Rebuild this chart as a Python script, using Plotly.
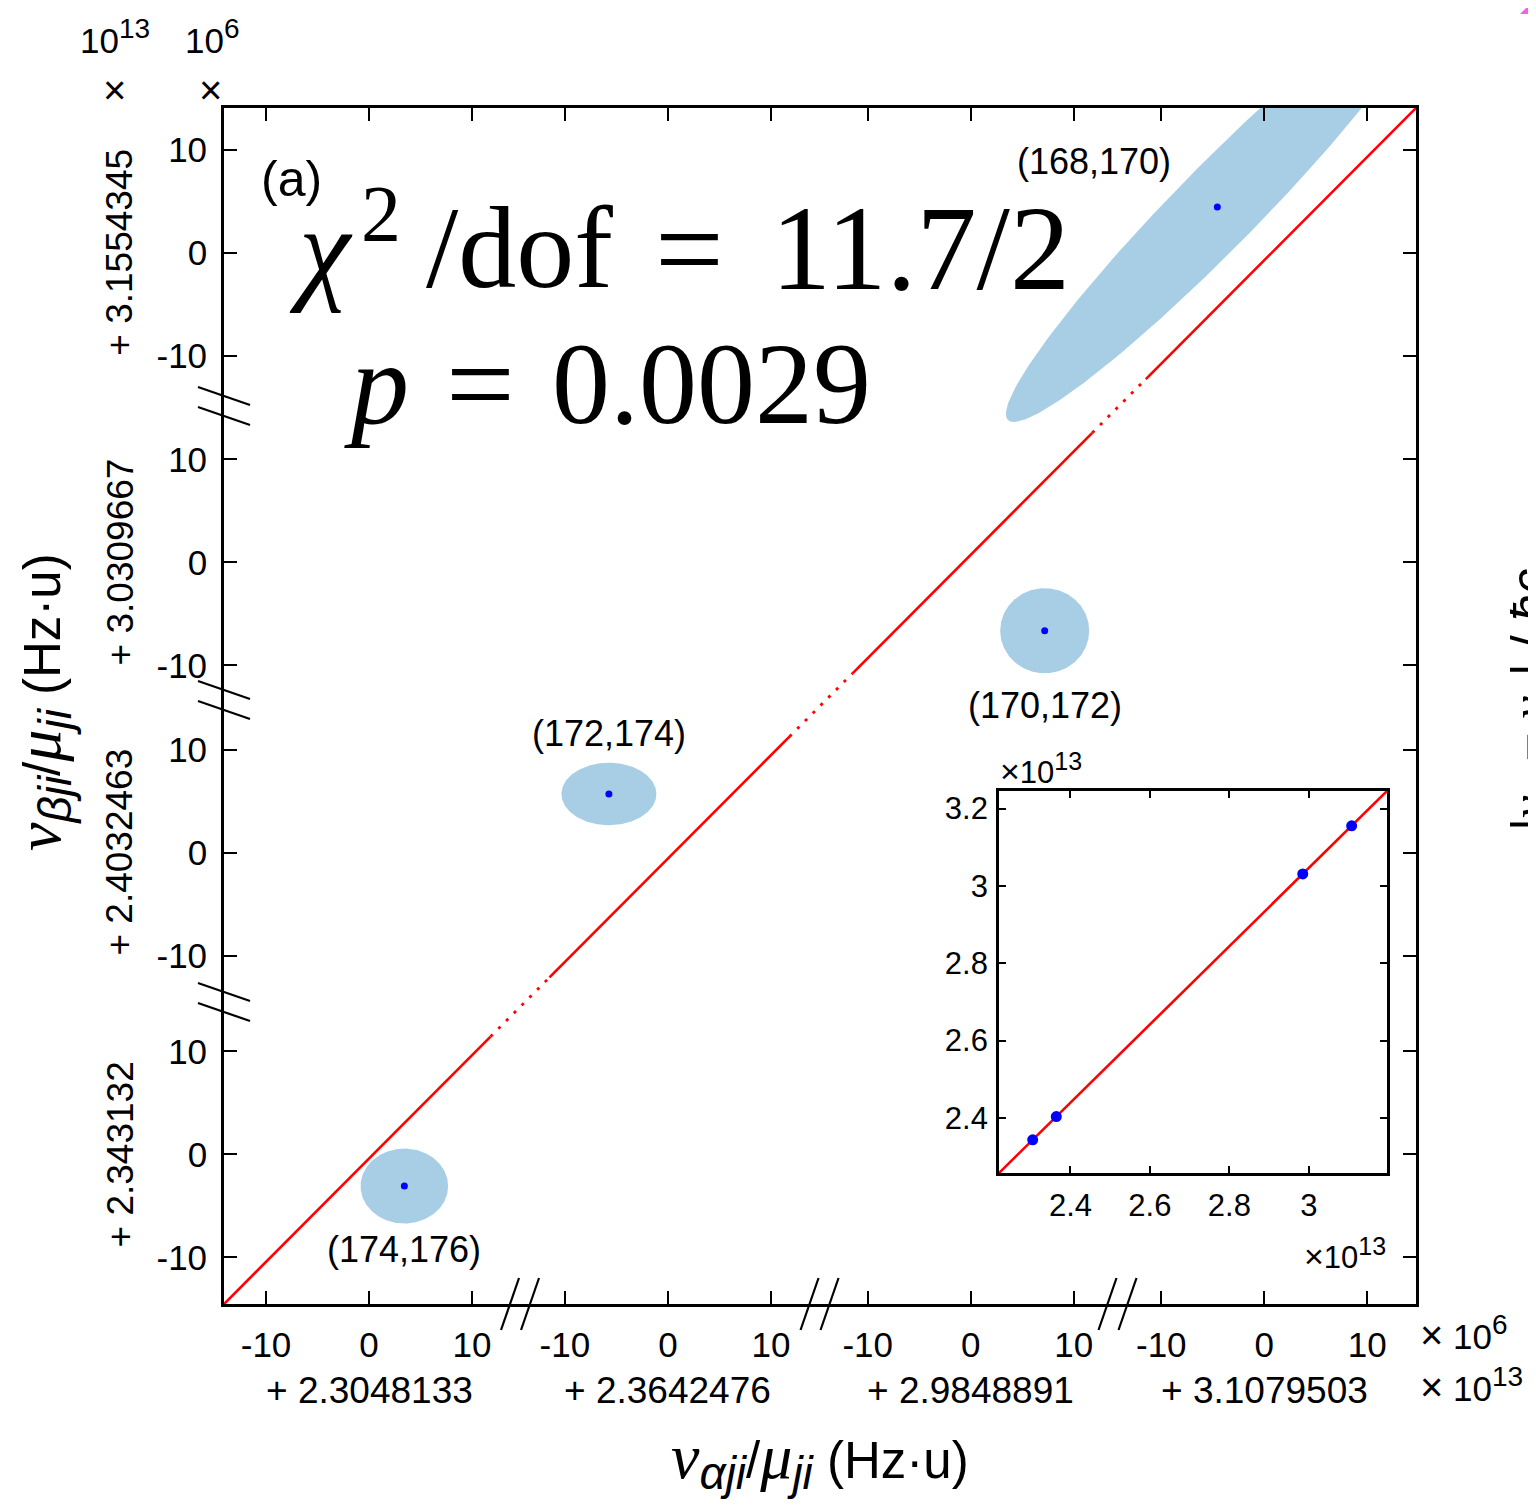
import numpy as np
import plotly.graph_objects as go

# ---------------- data ----------------
# axis offsets (x 10^13 Hz·u); y listed bottom -> top
x_offsets = ["2.3048133", "2.3642476", "2.9848891", "3.1079503"]
y_offsets = ["2.343132", "2.4032463", "3.0309667", "3.1554345"]
pair_labels = ["(174,176)", "(172,174)", "(170,172)", "(168,170)"]
# measured points relative to offsets (x 10^6 Hz·u); point i uses x-offset i and y-offset i
pt_x_local = [3.43, -5.73, 7.18, -4.56]
pt_y_local = [-3.07, 5.69, -6.63, 4.44]
# uncertainty ellipses (x 10^6 Hz·u): semi-axes and tilt (deg)
ell_a = [4.25, 4.61, 4.32, 29.0]
ell_b = [3.64, 3.03, 4.13, 4.0]
ell_angle = [0.0, 0.0, 0.0, 45.5]
local_ticks = [-10, 0, 10]
inset_ticks_x = [2.4, 2.6, 2.8, 3.0]
inset_ticks_y = [2.4, 2.6, 2.8, 3.0, 3.2]
inset_tick_text_x = ["2.4", "2.6", "2.8", "3"]
inset_tick_text_y = ["2.4", "2.6", "2.8", "3", "3.2"]
chi2_value = "11.7/2"
p_value = "0.0029"

# ---------------- broken-axis layout (units of 10^6) ----------------
x_seg_zero = [14.08, 43.1, 72.5, 101.0]
x_breaks = [28.74, 57.82, 86.75]
x_total = 115.73
y_seg_zero = [14.52, 43.83, 72.0, 102.07]
y_breaks = [29.32, 58.64, 87.18]
y_total = 116.12
solid_lo, solid_hi = -11.5, 11.8

W, H = 1536, 1505
OFF = 8  # page body margin
L, R, T, B = 224, 1416, 108, 1304
PW, PH = R - L, B - T


def px(xp):
    return (xp - L) / PW


def py(yp):
    return (B - yp) / PH


SANS = "Liberation Sans, Arial, Helvetica, sans-serif"
SERIF = "Liberation Serif, Times New Roman, serif"
BLUE_FILL = "#a8cee6"

fig = go.Figure()

# ellipses
for i in range(4):
    cx = x_seg_zero[i] + pt_x_local[i]
    cy = y_seg_zero[i] + pt_y_local[i]
    t = np.linspace(0, 2 * np.pi, 240)
    th = np.deg2rad(ell_angle[i])
    ex = cx + ell_a[i] * np.cos(t) * np.cos(th) - ell_b[i] * np.sin(t) * np.sin(th)
    ey = cy + ell_a[i] * np.cos(t) * np.sin(th) + ell_b[i] * np.sin(t) * np.cos(th)
    fig.add_trace(go.Scatter(x=ex, y=ey, mode="lines", fill="toself",
                             fillcolor=BLUE_FILL, line=dict(width=0, color=BLUE_FILL),
                             hoverinfo="skip", showlegend=False))

# red fit line across broken axes: solid inside segments, dotted near breaks
slope = y_total / x_total
solid_x, dot_x = [], []
for k in range(4):
    lo = 0.0 if k == 0 else x_seg_zero[k] + solid_lo
    hi = x_total if k == 3 else x_seg_zero[k] + solid_hi
    solid_x += [lo, hi, None]
    if k < 3:
        dot_x += [hi, x_seg_zero[k + 1] + solid_lo, None]
solid_y = [None if v is None else v * slope for v in solid_x]
dot_y = [None if v is None else v * slope for v in dot_x]
fig.add_trace(go.Scatter(x=solid_x, y=solid_y, mode="lines",
                         line=dict(color="#ff0000", width=2.6), showlegend=False, hoverinfo="skip"))
fig.add_trace(go.Scatter(x=dot_x, y=dot_y, mode="lines",
                         line=dict(color="#ff0000", width=2.8, dash="3px,8px"), showlegend=False,
                         hoverinfo="skip"))

fig.add_trace(go.Scatter(x=[x_seg_zero[i] + pt_x_local[i] for i in range(4)],
                         y=[y_seg_zero[i] + pt_y_local[i] for i in range(4)],
                         mode="markers", marker=dict(color="#0000ff", size=7),
                         showlegend=False, hoverinfo="skip"))

# ---------------- inset ----------------
inset_x = [float(x_offsets[i]) + pt_x_local[i] * 1e-7 for i in range(4)]
inset_y = [float(y_offsets[i]) + pt_y_local[i] * 1e-7 for i in range(4)]
fit_b, fit_a = np.polyfit(inset_x, inset_y, 1)
inset_xr = [2.22, 3.197]
inset_yr = [fit_a + fit_b * inset_xr[0], fit_a + fit_b * inset_xr[1]]
fig.add_trace(go.Scatter(x=inset_xr, y=inset_yr, mode="lines", line=dict(color="#ff0000", width=2.6),
                         xaxis="x2", yaxis="y2", showlegend=False, hoverinfo="skip"))
fig.add_trace(go.Scatter(x=inset_x, y=inset_y, mode="markers", marker=dict(color="#0000ff", size=11),
                         xaxis="x2", yaxis="y2", showlegend=False, hoverinfo="skip"))

# ---------------- axes ----------------
xtv, xtt, ytv, ytt = [], [], [], []
for z in x_seg_zero:
    for v in local_ticks:
        xtv.append(z + v)
        xtt.append(str(v))
for z in y_seg_zero:
    for v in local_ticks:
        ytv.append(z + v)
        ytt.append(str(v))

axis_common = dict(showgrid=False, zeroline=False, showline=True, linecolor="black", linewidth=2.8,
                   ticks="inside", tickcolor="black", tickwidth=2.4, mirror="allticks")
inset_dom_x = [px(999), px(1387)]
inset_dom_y = [py(1173), py(791)]
fig.update_layout(
    width=W, height=H,
    margin=dict(l=L - OFF, r=W - R + OFF, t=T - OFF, b=H - B + OFF),
    paper_bgcolor="white", plot_bgcolor="white",
    xaxis=dict(range=[0, x_total], tickvals=xtv, ticktext=xtt, ticklen=13,
               tickfont=dict(family=SANS, size=35, color="black"), ticklabelstandoff=8,
               **axis_common),
    yaxis=dict(range=[0, y_total], tickvals=ytv, ticktext=ytt, ticklen=13,
               tickfont=dict(family=SANS, size=35, color="black"), ticklabelstandoff=7,
               **axis_common),
    xaxis2=dict(domain=inset_dom_x, anchor="y2", range=inset_xr, tickvals=inset_ticks_x,
                ticktext=inset_tick_text_x, ticklen=7,
                tickfont=dict(family=SANS, size=31, color="black"), ticklabelstandoff=3,
                **axis_common),
    yaxis2=dict(domain=inset_dom_y, anchor="x2", range=inset_yr, tickvals=inset_ticks_y,
                ticktext=inset_tick_text_y, ticklen=7,
                tickfont=dict(family=SANS, size=31, color="black"), ticklabelstandoff=2,
                **axis_common),
)

# white background behind inset
fig.add_shape(type="rect", xref="paper", yref="paper", x0=inset_dom_x[0], x1=inset_dom_x[1],
              y0=inset_dom_y[0], y1=inset_dom_y[1], fillcolor="white", line=dict(width=0),
              layer="below")

# break marks
for xb in x_breaks:
    for dx in (-10, 10):
        fig.add_shape(type="line", xref="x", xsizemode="pixel", xanchor=xb,
                      x0=dx - 9, x1=dx + 9, yref="paper", ysizemode="pixel", yanchor=0,
                      y0=-26, y1=26, line=dict(color="black", width=2.2))
for yb in y_breaks:
    for dy in (10, -10):
        fig.add_shape(type="line", xref="paper", xsizemode="pixel", xanchor=0,
                      x0=-26, x1=26, yref="y", ysizemode="pixel", yanchor=yb,
                      y0=dy + 9, y1=dy - 9, line=dict(color="black", width=2.2))

ann = []


def add_text(text, x, y, size, family=SANS, xanchor="center", yanchor="middle",
             xref="paper", yref="paper", angle=0, xshift=0, yshift=0):
    ann.append(dict(text=text, x=x, y=y, xref=xref, yref=yref, showarrow=False,
                    font=dict(family=family, size=size, color="black"),
                    xanchor=xanchor, yanchor=yanchor, textangle=angle,
                    xshift=xshift, yshift=yshift))


def sup(s, size):
    return "<sup><span style='font-size:%dpx'>%s</span></sup>" % (size, s)


def sub(s, size):
    return "<sub><span style='font-size:%dpx'><i>%s</i></span></sub>" % (size, s)


def sized(s, size):
    return "<span style='font-size:%dpx'>%s</span>" % (size, s)


# offset labels
for i, z in enumerate(x_seg_zero):
    add_text("+ " + x_offsets[i], z, 0, 37, xref="x", yshift=-86)
for i, z in enumerate(y_seg_zero):
    add_text("+ " + y_offsets[i], 0, z, 37, yref="y", angle=-90, xshift=-104)

# pair labels
pair_shift = [(0, -63), (0, 60), (0, -75), (-123, 45)]
for i in range(4):
    add_text(pair_labels[i], x_seg_zero[i] + pt_x_local[i], y_seg_zero[i] + pt_y_local[i], 36,
             xref="x", yref="y", xshift=pair_shift[i][0], yshift=pair_shift[i][1])

add_text("(a)", px(291), py(179), 50)

# statistics text
BIG = 116
add_text("<i>χ</i>", px(287), py(249), BIG, family=SERIF, xanchor="left")
add_text("2", px(381), py(214), 80, family=SERIF)
add_text("/dof", px(424), py(248), BIG, family=SERIF, xanchor="left")
add_text("=", px(689), py(248), 122, family=SERIF)
add_text(chi2_value, px(920), py(248), 120, family=SERIF)
add_text("<i>p</i>", px(342), py(384), BIG, family=SERIF, xanchor="left")
add_text("=", px(480), py(384), 122, family=SERIF)
add_text(p_value, px(711), py(384), BIG, family=SERIF)

# exponent labels
TIMES = sized("×", 40)
add_text("10" + sup("13", 28), px(115), py(36), 35)
add_text(TIMES, px(114), py(90), 35)
add_text("10" + sup("6", 28), px(212), py(36), 35)
add_text(TIMES, px(210), py(90), 35)
add_text(TIMES + " 10" + sup("6", 28), px(1418), py(1333), 35, xanchor="left")
add_text(TIMES + " 10" + sup("13", 28), px(1418), py(1385), 35, xanchor="left")
add_text(sized("×", 34) + "10" + sup("13", 25), px(998), py(768), 31, xanchor="left")
add_text(sized("×", 34) + "10" + sup("13", 25), px(1388), py(1253), 31, xanchor="right")

# axis titles
nu = '<span style="font-family:Liberation Serif;font-size:64px"><i>ν</i></span>'
mu = '<span style="font-family:Liberation Serif;font-size:64px"><i>μ</i></span>'
xt = nu + sub("αji", 46) + "/" + mu + sub("ji", 46) + " (Hz·u)"
yt = nu + sub("βji", 46) + "/" + mu + sub("ji", 46) + " (Hz·u)"
add_text(xt, px(820), py(1460), 51)
add_text(yt, px(42), py(702), 51, angle=-90)

# fragment of neighbouring panel on the right edge
nu2 = '<span style="font-family:Liberation Serif"><i>ν</i></span>'
add_text("|" + nu2 + "<sub>α</sub> − " + nu2 + "<sub>β</sub>| / <i>ħc</i>", px(1532), py(700), 50,
         angle=-90)

fig.update_layout(annotations=ann)
fig.add_shape(type="path", xref="paper", yref="paper", xsizemode="pixel", ysizemode="pixel",
              xanchor=1, yanchor=1, path="M 104,94 L 114,104 L 114,94 Z",
              fillcolor="#f060f0", line=dict(width=0))

fig.write_html("out.html")
